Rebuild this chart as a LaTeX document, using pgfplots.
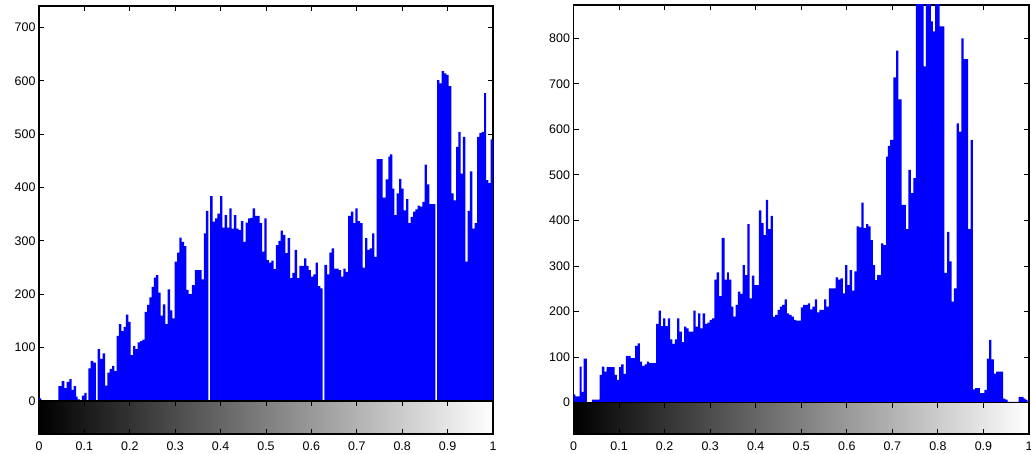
\documentclass[border=0pt]{standalone}
\usepackage{pgfplots}
\pgfplotsset{compat=1.18}
\usepackage{fontspec}
\setmainfont{Liberation Sans}
\pgfplotsset{
  hist/.style={
    scale only axis, anchor=south west,
    xmin=0, xmax=1, ymin=0,
    axis line style={line width=1.1bp},
    tick style={line width=0.9bp, black},
    major tick length=5bp,
    tick align=inside,
    xtick={0,0.1,0.2,0.3,0.4,0.5,0.6,0.7,0.8,0.9,1},
    xticklabels={},
    yticklabel style={font=\fontsize{12.5}{14}\selectfont, text=black},
  },
  cbar/.style={
    scale only axis, anchor=south west,
    xmin=0, xmax=1, ymin=0, ymax=1,
    axis on top,
    axis line style={line width=1.1bp},
    tick style={line width=0.9bp, black},
    major tick length=5bp,
    tick align=inside,
    ytick=\empty,
    xtick={0,0.1,0.2,0.3,0.4,0.5,0.6,0.7,0.8,0.9,1},
    xticklabels={0,0.1,0.2,0.3,0.4,0.5,0.6,0.7,0.8,0.9,1},
    xticklabel style={font=\fontsize{12.5}{14}\selectfont, text=black, yshift=-4bp},
  },
}
\begin{document}
\begin{tikzpicture}
\path (0bp,0bp) rectangle (1031bp,454bp);

% ---------------- left histogram ----------------
\begin{axis}[hist, at={(39bp,53bp)}, width=454bp, height=395bp, ymax=740,
  ytick={0,100,200,300,400,500,600,700},
  yticklabels={0,100,200,300,400,500,600,700}]
\addplot[fill={rgb,255:red,0;green,0;blue,255}, draw=none, const plot mark left] coordinates {
(0,5)(0.005,0)(0.0426,28)(0.0499,37)(0.0558,24)(0.0610,36)(0.0668,41)(0.0720,21)(0.0764,28)
(0.0815,8)(0.0852,3)(0.0903,0)(0.0947,10)(0.0999,15)(0.1050,1)(0.1087,61)(0.1138,75)(0.1197,72)
(0.1250,0)(0.1290,97)(0.1344,79)(0.1402,89)(0.1454,29)(0.1505,53)(0.1557,60)(0.1608,66)(0.1660,56)
(0.1711,122)(0.1762,144)(0.1814,131)(0.1865,139)(0.1916,162)(0.1968,148)(0.2019,86)(0.2071,103)
(0.2122,97)(0.2173,110)(0.2225,112)(0.2276,115)(0.2327,167)(0.2379,180)(0.2430,194)(0.2482,214)
(0.2533,231)(0.2577,236)(0.2628,203)(0.2680,160)(0.2731,181)(0.2783,144)(0.2834,209)(0.2886,170)
(0.2937,155)(0.2988,261)(0.3040,278)(0.3091,306)(0.3142,298)(0.3194,290)(0.3245,208)(0.3296,200)
(0.3370,217)(0.3436,245)(0.3583,228)(0.3634,314)(0.3678,356)(0.3730,0)(0.3770,384)(0.3825,336)
(0.3877,342)(0.3928,351)(0.3987,384)(0.4038,325)(0.4090,348)(0.4141,325)(0.4192,361)(0.4244,323)
(0.4295,348)(0.4347,323)(0.4398,320)(0.4449,337)(0.4501,298)(0.4552,334)(0.4604,342)(0.4655,343)
(0.4706,361)(0.4758,347)(0.4809,347)(0.4861,333)(0.4912,280)(0.4963,342)(0.5015,264)(0.5066,259)
(0.5117,263)(0.5169,247)(0.5220,292)(0.5272,300)(0.5323,319)(0.5374,311)(0.5426,277)(0.5477,305)
(0.5529,230)(0.5580,240)(0.5631,283)(0.5683,230)(0.5734,253)(0.5786,253)(0.5837,267)(0.5888,253)
(0.5940,245)(0.5991,233)(0.6043,237)(0.6094,259)(0.6145,215)(0.6197,211)(0.6248,0)(0.6288,255)
(0.6344,237)(0.6395,278)(0.6446,286)(0.6498,248)(0.6549,248)(0.6601,245)(0.6652,233)(0.6703,248)
(0.6755,242)(0.6810,347)(0.6872,355)(0.6924,333)(0.6968,361)(0.7019,337)(0.7071,333)(0.7129,250)
(0.7181,305)(0.7232,283)(0.7283,286)(0.7335,314)(0.7386,270)(0.7438,453)(0.7570,381)(0.7636,415)
(0.7695,458)(0.7731,462)(0.7783,398)(0.7827,348)(0.7878,389)(0.7930,416)(0.7981,398)(0.8032,357)
(0.8084,378)(0.8135,333)(0.8187,345)(0.8238,355)(0.8289,359)(0.8341,366)(0.8392,364)(0.8443,373)
(0.8495,443)(0.8546,406)(0.8598,369)(0.8730,0)(0.8770,601)(0.8818,595)(0.8869,618)(0.8921,614)
(0.8972,611)(0.9023,590)(0.9082,389)(0.9134,376)(0.9185,476)(0.9236,504)(0.9288,426)(0.9339,495)
(0.9391,261)(0.9442,356)(0.9493,430)(0.9545,323)(0.9596,333)(0.9648,495)(0.9699,502)(0.9750,504)
(0.9802,577)(0.9846,414)(0.9897,408)(0.9949,490)(1.0,490)
} \closedcycle;
\end{axis}
\begin{axis}[cbar, at={(39bp,20bp)}, width=454bp, height=33bp]
\fill[left color=black, right color=white] (rel axis cs:0,0) rectangle (rel axis cs:1,1);
\end{axis}

% ---------------- right histogram ----------------
\begin{axis}[hist, at={(573.5bp,51.3bp)}, width=455.5bp, height=397.7bp, ymax=873,
  ytick={0,100,200,300,400,500,600,700,800},
  yticklabels={0,100,200,300,400,500,600,700,800}]
\addplot[fill={rgb,255:red,0;green,0;blue,255}, draw=none, const plot mark left] coordinates {
(0,18)(0.0040,14)(0.0135,79)(0.0179,24)(0.0223,97)(0.0296,0)(0.0405,7)(0.0573,61)(0.0624,79)
(0.0675,68)(0.0727,78)(0.0902,61)(0.0953,50)(0.1004,78)(0.1048,84)(0.1099,63)(0.1150,103)
(0.1252,98)(0.1354,125)(0.1406,130)(0.1457,90)(0.1508,81)(0.1559,84)(0.1610,90)(0.1661,87)
(0.1814,173)(0.1866,202)(0.1917,168)(0.1968,185)(0.2019,168)(0.2070,185)(0.2121,139)(0.2172,129)
(0.2223,139)(0.2274,185)(0.2326,156)(0.2377,133)(0.2428,167)(0.2479,163)(0.2530,156)(0.2632,202)
(0.2683,167)(0.2735,196)(0.2786,163)(0.2837,196)(0.2888,173)(0.2939,176)(0.2990,182)(0.3041,185)
(0.3092,270)(0.3143,286)(0.3195,234)(0.3250,362)(0.3319,270)(0.3370,286)(0.3413,270)(0.3465,211)
(0.3508,189)(0.3559,215)(0.3611,244)(0.3662,239)(0.3713,302)(0.3764,280)(0.3815,392)(0.3866,229)
(0.3917,279)(0.3968,258)(0.4071,422)(0.4122,394)(0.4173,368)(0.4224,445)(0.4275,381)(0.4326,410)
(0.4377,189)(0.4428,193)(0.4480,204)(0.4531,211)(0.4582,215)(0.4633,227)(0.4684,196)(0.4735,193)
(0.4786,189)(0.4837,182)(0.4888,180)(0.4991,209)(0.5042,215)(0.5144,218)(0.5195,205)(0.5246,211)
(0.5297,227)(0.5348,198)(0.5400,204)(0.5502,227)(0.5553,211)(0.5604,251)(0.5757,275)(0.5808,270)
(0.5860,273)(0.5911,240)(0.5962,302)(0.6013,258)(0.6064,291)(0.6115,246)(0.6166,288)(0.6217,387)
(0.6268,385)(0.6320,439)(0.6371,383)(0.6422,392)(0.6473,387)(0.6524,357)(0.6571,302)(0.6622,269)
(0.6666,280)(0.6753,350)(0.6804,346)(0.6862,540)(0.6899,564)(0.6950,577)(0.7022,714)(0.7080,773)
(0.7131,666)(0.7204,434)(0.7299,381)(0.7350,511)(0.7408,460)(0.7459,493)(0.7517,960)(0.7684,738)
(0.7735,950)(0.7844,837)(0.7888,815)(0.7939,940)(0.8040,826)(0.8142,285)(0.8200,375)(0.8251,310)
(0.8302,222)(0.8353,251)(0.8411,613)(0.8462,595)(0.8513,800)(0.8564,754)(0.8666,381)(0.8717,577)
(0.8768,29)(0.8819,32)(0.8920,21)(0.9022,28)(0.9073,97)(0.9124,138)(0.9175,95)(0.9226,64)
(0.9277,68)(0.9430,9)(0.9480,7)(0.9531,2)(0.9771,13)(0.9880,9)(0.9924,6)(0.9967,0)(1.0,0)
} \closedcycle;
\end{axis}
\begin{axis}[cbar, at={(573.5bp,20bp)}, width=455.5bp, height=31.3bp]
\fill[left color=black, right color=white] (rel axis cs:0,0) rectangle (rel axis cs:1,1);
\end{axis}
\pgfresetboundingbox
\useasboundingbox (0bp,0bp) rectangle (1031bp,454bp);
\end{tikzpicture}
\end{document}
